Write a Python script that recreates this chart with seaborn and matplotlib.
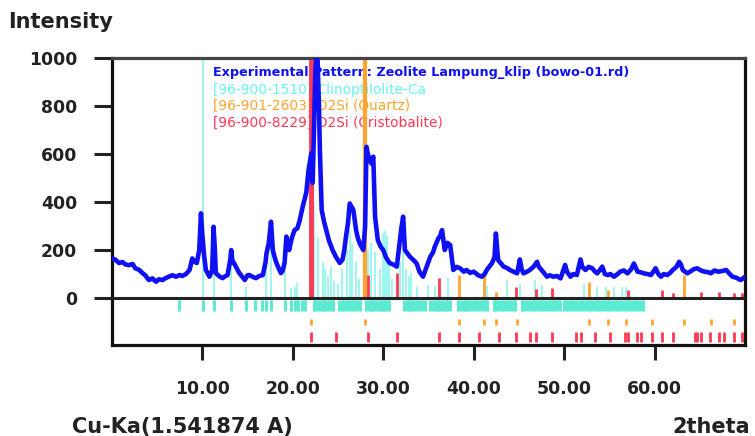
import numpy as np
import pandas as pd
import matplotlib
matplotlib.use("Agg")
import matplotlib.pyplot as plt
import seaborn as sns

# experimental pattern (2theta, intensity)
two_theta = [0.0, 0.4, 0.8, 1.2, 1.5, 1.9, 2.3, 2.6, 3.0, 3.4, 3.7, 4.1, 4.5, 4.9, 5.2, 5.6,
             6.0, 6.3, 6.7, 7.1, 7.5, 7.8, 8.2, 8.6, 8.9, 9.2, 9.4, 9.67, 9.86, 10.0, 10.2,
             10.4, 10.8, 11.1, 11.25, 11.4, 11.5, 11.9, 12.25, 12.5, 12.8, 13.1, 13.2, 13.35,
             13.5, 14.1, 14.4, 14.7, 15.0, 15.2, 15.6, 15.95, 16.3, 16.7, 17.0, 17.1, 17.35,
             17.6, 17.8, 18.0, 18.2, 18.5, 18.7, 18.9, 19.1, 19.3, 19.45, 19.6, 19.9, 20.2,
             20.5, 20.75, 21.1, 21.5, 21.75, 22.05, 22.2, 22.35, 22.5, 22.6, 22.75, 22.9, 23.0,
             23.2, 23.45, 23.7, 24.0, 24.4, 24.8, 25.2, 25.5, 25.7, 25.9, 26.1, 26.3, 26.5,
             26.7, 27.0, 27.2, 27.4, 27.8, 28.0, 28.15, 28.3, 28.5, 28.7, 28.9, 29.1, 29.4,
             29.7, 30.0, 30.3, 30.7, 31.1, 31.5, 31.8, 32.0, 32.2, 32.4, 32.7, 32.95, 33.3,
             33.7, 34.0, 34.4, 34.8, 35.2, 35.5, 35.7, 36.1, 36.3, 36.5, 36.8, 37.1, 37.4,
             37.6, 37.75, 38.1, 38.5, 38.9, 39.2, 39.6, 40.0, 40.5, 40.9, 41.2, 41.45, 41.7,
             42.0, 42.3, 42.45, 42.6, 42.7, 43.0, 43.3, 43.7, 44.0, 44.4, 44.8, 45.1, 45.3,
             45.5, 45.9, 46.2, 46.6, 47.0, 47.2, 47.5, 48.1, 48.4, 48.8, 49.2, 49.6, 50.1,
             50.3, 50.7, 51.0, 51.4, 51.8, 52.0, 52.35, 52.7, 53.1, 53.4, 53.65, 54.0, 54.2,
             54.5, 54.8, 55.1, 55.5, 55.9, 56.2, 56.6, 57.0, 57.4, 57.7, 58.1, 58.4, 58.8,
             59.2, 59.6, 60.1, 60.4, 60.7, 61.0, 61.4, 61.7, 62.0, 62.4, 62.7, 62.9, 63.1,
             63.6, 64.0, 64.3, 64.7, 65.1, 65.5, 65.9, 66.2, 66.6, 67.0, 67.4, 67.9, 68.3,
             68.6, 69.0, 69.5, 70.0]
intensity = [165, 160, 146, 150, 140, 137, 142, 124, 118, 104, 95, 75, 82, 68, 78, 75,
             84, 89, 95, 89, 96, 92, 100, 117, 165, 150, 146, 200, 353, 270, 180,
             117, 89, 117, 297, 200, 104, 90, 83, 90, 96, 160, 200, 150,
             146, 104, 90, 75, 95, 96, 88, 83, 92, 96, 150, 186, 228,
             318, 200, 170, 146, 120, 104, 115, 146, 256, 230, 200, 250, 283,
             290, 320, 380, 440, 533, 603, 480, 700, 950, 1000, 990, 800, 617,
             367, 320, 283, 240, 200, 170, 146, 160, 200, 260, 311, 394, 380,
             367, 283, 250, 228, 200, 300, 630, 600, 575, 560, 589, 339, 242,
             215, 200, 170, 146, 140, 131, 228, 290, 339, 200, 185, 172, 160,
             144, 110, 89, 130, 172, 190, 214, 249, 260, 283, 200, 230, 221,
             160, 117, 130, 124, 110, 117, 105, 110, 95, 89, 100, 117, 130,
             144, 170, 269, 200, 158, 145, 131, 125, 117, 110, 103, 161, 120,
             103, 110, 117, 130, 151, 130, 117, 89, 95, 89, 92, 82, 138,
             110, 89, 100, 96, 161, 130, 117, 130, 124, 110, 103, 120, 131,
             100, 96, 100, 89, 100, 110, 115, 103, 120, 144, 110, 108, 103,
             100, 96, 124, 100, 89, 100, 96, 105, 117, 130, 151, 140, 117,
             103, 112, 120, 124, 115, 110, 108, 103, 115, 110, 112, 117, 100,
             89, 85, 75, 89]

# [96-900-1510] Clinoptilolite-Ca
clino_peak_pos = [10.1, 11.3, 13.2, 14.8, 17.05, 17.6, 19.2, 19.8, 20.2, 20.5, 22.2, 22.4,
                  22.8, 23.3, 23.6, 23.9, 24.2, 24.6, 25.0, 25.5, 26.0, 26.3, 26.6, 27.0,
                  27.3, 28.3, 28.7, 29.1, 29.6, 30.0, 30.2, 30.4, 30.6, 31.0, 31.8, 32.2,
                  32.5, 32.8, 33.1, 33.7, 35.0, 35.7, 37.2, 41.45, 43.7, 45.1, 46.8, 47.5,
                  52.2, 53.6, 54.6, 55.5, 56.4, 56.8]
clino_peak_int = [1000, 256, 158, 47, 214, 297, 117, 40, 45, 62, 350, 400,
                  250, 150, 120, 90, 130, 70, 60, 120, 200, 280, 230, 150,
                  80, 200, 230, 190, 120, 270, 280, 260, 150, 80, 150, 311,
                  120, 90, 103, 48, 55, 50, 83, 50, 76, 60, 76, 55,
                  60, 48, 48, 47, 47, 45]
clino_pos = [7.45, 10.1, 11.3, 13.2, 14.8, 15.8, 16.6, 17.05, 17.6, 19.2, 19.8, 20.2, 20.6,
             21.0, 21.4, 22.3, 22.5, 22.8, 23.0, 23.3, 23.5, 23.8, 24.0, 24.3, 24.5,
             25.1, 25.4, 25.7, 26.0, 26.2, 26.5, 26.8, 27.1, 27.4,
             28.1, 28.4, 28.6, 28.9, 29.2, 29.5, 29.8, 30.0, 30.2, 30.4, 30.6,
             32.3, 32.6, 32.9, 33.1, 33.4, 33.7, 34.0, 34.3, 34.6,
             35.2, 35.5, 35.8, 36.0, 36.3, 36.6, 36.9, 37.1, 37.4,
             38.3, 38.6, 38.9, 39.1, 39.4, 39.7, 40.0, 40.3, 40.6, 40.9, 41.2, 41.5,
             42.2, 42.5, 42.8, 43.1, 43.4, 43.7, 44.0, 44.3, 44.6,
             45.3, 45.6, 45.9, 46.2, 46.5, 46.8, 47.1, 47.4, 47.7, 48.0, 48.3, 48.6,
             48.9, 49.2, 49.5, 50.0, 50.3, 50.6, 50.9, 51.2, 51.5, 51.8, 52.1, 52.4,
             52.7, 53.0, 53.3, 53.6, 53.9, 54.2, 54.5, 54.8, 55.1, 55.4, 55.7, 56.0,
             56.3, 56.6, 56.9, 57.2, 57.5, 57.8, 58.1, 58.4, 58.7]

# [96-901-2603] O2Si (Quartz)
quartz_pos = [22.05, 28.0, 38.4, 41.1, 42.5, 44.8, 52.7, 54.8, 56.8, 59.75, 63.2, 66.2, 68.8]
quartz_int = [0, 1000, 96, 96, 26, 0, 68, 33, 0, 0, 96, 0, 0]

# [96-900-8229] O2Si (Cristobalite)
cristo_pos = [22.0, 24.75, 28.35, 31.5, 36.2, 38.4, 40.6, 42.8, 44.7, 46.2, 46.9, 48.7,
              51.3, 51.9, 53.4, 55.1, 56.7, 57.1, 58.1, 58.5, 59.75, 60.8, 62.0, 64.5,
              64.7, 65.1, 66.1, 67.1, 67.7, 68.8, 69.7]
cristo_int = [1000, 0, 96, 104, 83, 0, 0, 0, 48, 0, 36, 41,
              0, 0, 0, 0, 0, 33, 0, 0, 0, 33, 21, 0,
              0, 24, 0, 26, 0, 21, 22]

legend_lines = ["Experimental Pattern: Zeolite Lampung_klip (bowo-01.rd)",
                "[96-900-1510] Clinoptilolite-Ca",
                "[96-901-2603] O2Si (Quartz)",
                "[96-900-8229] O2Si (Cristobalite)"]

BLUE = "#1010f5"
CYAN = "#5cebd2"
ORANGE = "#ffa42e"
RED = "#ff3a55"

sns.set_theme(style="white")
plt.rcParams["font.family"] = ["DejaVu Sans"]

fig = plt.figure(figsize=(7.55, 4.36), dpi=100)
ax = fig.add_axes([0.148, 0.209, 0.839, 0.658])

# legend-like text sits under the sticks, as in the original
colors = [BLUE, "#6af2f2", ORANGE, RED]
for i, (txt, c) in enumerate(zip(legend_lines, colors)):
    ax.text(0.282, 0.833 - i * 0.0383, txt, color=c,
            fontsize=9.2 if i == 0 else 9.9,
            fontweight="bold" if i == 0 else "normal",
            va="center", ha="left", transform=fig.transFigure, zorder=0.5)

# reference sticks above zero
ax.vlines(clino_peak_pos, 0, clino_peak_int, color="#8ff6ee", lw=1.2, zorder=1)
ax.vlines(quartz_pos, 0, quartz_int, color=ORANGE, lw=[3 if h >= 1000 else 2 for h in quartz_int], zorder=2)
ax.vlines(cristo_pos, 0, cristo_int, color=RED, lw=[3.5 if h >= 1000 else 2 for h in cristo_int], zorder=2)

# experimental pattern
df = pd.DataFrame({"2theta": two_theta, "I": intensity})
sns.lineplot(data=df, x="2theta", y="I", ax=ax, color=BLUE, lw=3.3,
             sort=False, estimator=None, zorder=3)

# marker rows below zero
ax.vlines(clino_pos, -8, -55, color=CYAN, lw=2.2, zorder=1)
ax.vlines(quartz_pos, -88, -112, color=ORANGE, lw=2, zorder=1)
ax.vlines(cristo_pos, -142, -182, color=RED, lw=2, zorder=1)

ax.axhline(0, color="#222222", lw=2.2, zorder=4)

ax.set_xlim(0, 70)
ax.set_ylim(-195, 1000)
ax.set_xticks([10, 20, 30, 40, 50, 60])
ax.set_xticklabels(["%.2f" % v for v in [10, 20, 30, 40, 50, 60]])
ax.set_yticks([0, 200, 400, 600, 800, 1000])
ax.set_xlabel("")
ax.set_ylabel("")
ax.tick_params(axis="y", direction="out", length=13, width=2.2, pad=12,
               labelsize=12.4, colors="#222222", left=True)
ax.tick_params(axis="x", direction="out", length=11, width=2.2, pad=14,
               labelsize=12.4, colors="#222222", bottom=True)
for lab in ax.get_xticklabels() + ax.get_yticklabels():
    lab.set_fontweight("bold")
for side in ["left", "bottom", "right"]:
    ax.spines[side].set_linewidth(2.3)
    ax.spines[side].set_color("#111111")
ax.spines["top"].set_linewidth(2.3)
ax.spines["top"].set_color("#444444")

fig.text(0.011, 0.95, "Intensity", fontsize=15, fontweight="bold", color="#222222", va="center")
fig.text(0.095, 0.021, "Cu-Ka(1.541874 A)", fontsize=15, fontweight="bold", color="#222222", va="center")
fig.text(0.993, 0.021, "2theta", fontsize=15, fontweight="bold", color="#222222", va="center", ha="right")

fig.savefig("out.png", dpi=100)
